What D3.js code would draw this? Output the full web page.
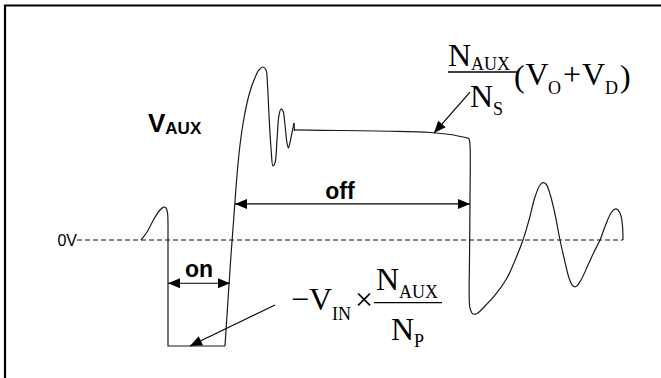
<!DOCTYPE html>
<html><head><meta charset="utf-8">
<script src="https://cdn.jsdelivr.net/npm/d3@7"></script>
<style>html,body{margin:0;padding:0;background:#fff;}svg{display:block;}</style>
</head><body>
<script>
// ---- data (time in arbitrary units, voltage in arbitrary units; 0 = 0V) ----
const bumpT = [0, 1.2, 2.6, 3.8, 4.6, 5.0, 5.3, 5.4, 5.4];
const bumpV = [0, 0.75, 1.98, 2.83, 3.11, 3.02, 2.55, 1.42, 0.75];
const onT = [5.4, 5.4, 16.8];
const onV = [0.75, -10, -10];
const ringT = [16.8, 17.4, 18.0, 18.6, 19.2, 19.8, 20.6, 21.6, 22.6, 23.6, 24.4, 25.0, 25.3, 25.6, 26.0, 26.4, 26.8, 27.2, 27.6, 28.0, 28.4, 28.8, 29.2, 29.5, 29.9, 30.4, 30.6];
const ringV = [-10, -5.66, -1.42, 2.36, 6.13, 8.96, 11.51, 13.68, 15.09, 16.04, 16.32, 16.04, 14.62, 11.79, 8.68, 6.98, 7.26, 9.43, 11.79, 12.36, 12.17, 10.85, 9.15, 8.68, 9.43, 10.57, 11.04];
const plateauT = [30.7, 39.8, 49.8, 57.8, 61.8, 65.6];
const plateauV = [10.38, 10.33, 10.26, 10.14, 9.95, 9.58];
const decayT = [65.6, 65.8, 65.8, 65.7, 65.64, 65.8, 66.4, 67.2, 68.8, 71.0, 73.2, 75.0, 76.4, 77.6, 78.8, 79.8, 80.4, 81.0, 81.8, 82.8, 83.8, 84.8, 85.6, 86.4, 87.0, 88.0, 89.4, 90.6, 91.8, 93.0, 94.0, 94.8, 95.4, 96.0, 96.3, 96.4];
const decayV = [9.58, 8.96, 3.77, -1.89, -5.19, -6.42, -6.98, -6.93, -6.23, -5.09, -3.58, -1.70, 0, 1.89, 4.06, 5.19, 5.42, 5.28, 4.34, 2.45, 0, -2.08, -3.58, -4.34, -4.39, -3.77, -2.36, -1.13, 0, 1.51, 2.55, 2.92, 2.83, 2.26, 1.32, 0];
const zeroLineT = [-12.8, 96.4];
// annotation arrows: [t1, v1, t2, v2]
const onArrow = [5.4, -4.08, 17.8, -4.08];
const offArrow = [18.8, 3.4, 65.8, 3.4];
const plateauPointer = [65.8, 13.96, 58.6, 10.09];
const negPointer = [26.8, -6.13, 9.8, -10];
const labels = ["0V", "on", "off"];

const W = 661, H = 378;
const x = d3.scaleLinear().domain([0, 96.4]).range([141, 623]);
const y = d3.scaleLinear().domain([-10, 0]).range([346, 240]);

const svg = d3.select("body").append("svg").attr("width", W).attr("height", H);

// frame (top + left)
svg.append("path").attr("d", `M5,${H} L5,5.5 L${W},5.5`).attr("fill", "none")
  .attr("stroke", "#000").attr("stroke-width", 2.2);

// zero line
svg.append("line").attr("x1", x(zeroLineT[0])).attr("x2", x(zeroLineT[1]))
  .attr("y1", y(0)).attr("y2", y(0)).attr("stroke", "#111").attr("stroke-width", 1)
  .attr("stroke-dasharray", "5,3");

const zip = (T, V) => T.map((t, i) => [t, V[i]]);
const smooth = d3.line().x(d => x(d[0])).y(d => y(d[1])).curve(d3.curveCatmullRom.alpha(0.5));
const straight = d3.line().x(d => x(d[0])).y(d => y(d[1]));
const wave = svg.append("g").attr("fill", "none").attr("stroke", "#1a1a1a").attr("stroke-width", 1.2)
  .attr("stroke-linejoin", "round");
wave.append("path").attr("d", smooth(zip(bumpT, bumpV)));
wave.append("path").attr("d", straight(zip(onT, onV)));
wave.append("path").attr("d", smooth(zip(ringT, ringV)));
wave.append("path").attr("d", straight([[ringT[ringT.length - 1], ringV[ringV.length - 1]], [plateauT[0], plateauV[0] - 0.1]]));
wave.append("path").attr("d", smooth(zip(plateauT, plateauV)));
wave.append("path").attr("d", smooth(zip(decayT, decayV)));

// arrows
function head(px, py, fx, fy, len = 12, hw = 5) {
  const dx = px - fx, dy = py - fy, L = Math.hypot(dx, dy), ux = dx / L, uy = dy / L;
  const bx = px - ux * len, by = py - uy * len;
  svg.append("path").attr("d",
    `M${px},${py} L${bx - uy * hw},${by + ux * hw} L${bx + uy * hw},${by - ux * hw} Z`)
    .attr("fill", "#000");
}
function arrow(a, both) {
  const x1 = x(a[0]), y1 = y(a[1]), x2 = x(a[2]), y2 = y(a[3]);
  svg.append("line").attr("x1", x1).attr("y1", y1).attr("x2", x2).attr("y2", y2)
    .attr("stroke", "#000").attr("stroke-width", 1.2);
  head(x2, y2, x1, y1);
  if (both) head(x1, y1, x2, y2);
}
arrow(onArrow, true);
arrow(offArrow, true);
arrow(plateauPointer, false);
arrow(negPointer, false);

// sans labels
svg.append("text").attr("x", 77).attr("y", 246).attr("text-anchor", "end")
  .attr("font-family", "Liberation Sans, Arial, sans-serif").attr("font-size", 16).text(labels[0]);
svg.append("text").attr("x", (x(onArrow[0]) + x(onArrow[2])) / 2).attr("y", 277).attr("text-anchor", "middle")
  .attr("font-family", "Liberation Sans, Arial, sans-serif").attr("font-weight", "bold").attr("font-size", 23).text(labels[1]);
svg.append("text").attr("x", 340).attr("y", 199).attr("text-anchor", "middle")
  .attr("font-family", "Liberation Sans, Arial, sans-serif").attr("font-weight", "bold").attr("font-size", 23).text(labels[2]);
const vaux = svg.append("text").attr("x", 148).attr("y", 132)
  .attr("font-family", "Liberation Sans, Arial, sans-serif").attr("font-weight", "bold");
vaux.append("tspan").attr("font-size", 26).text("V");
vaux.append("tspan").attr("font-size", 17).attr("dy", 2).text("AUX");

// formulas (serif)
function t(xp, yp, s, size) {
  svg.append("text").attr("x", xp).attr("y", yp).attr("font-family", "Liberation Serif, Times New Roman, serif")
    .attr("font-size", size).attr("fill", "#000").text(s);
}
const M = 32, S = 18;
// top: N_AUX / N_S (V_O + V_D)
t(448, 66, "N", M); t(471, 70, "AUX", S);
svg.append("line").attr("x1", 448).attr("x2", 517).attr("y1", 72).attr("y2", 72).attr("stroke", "#000").attr("stroke-width", 1.3);
t(470, 107, "N", M); t(493, 115, "S", S);
t(514, 87, "(", M); t(525.5, 85, "V", M); t(548, 94, "O", S);
t(563, 85, "+", M); t(582, 85, "V", M); t(605, 94, "D", S); t(620, 87, ")", M);
// bottom: −V_IN × N_AUX / N_P
t(291, 310, "\u2212", M); t(309, 310, "V", M); t(332, 320, "IN", S);
t(355, 310, "\u00D7", M);
t(376, 290, "N", M); t(399, 298, "AUX", S);
svg.append("line").attr("x1", 374).attr("x2", 442).attr("y1", 302.7).attr("y2", 302.7).attr("stroke", "#000").attr("stroke-width", 1.3);
t(391, 340, "N", M); t(414, 347, "P", S);
</script>
</body></html>
